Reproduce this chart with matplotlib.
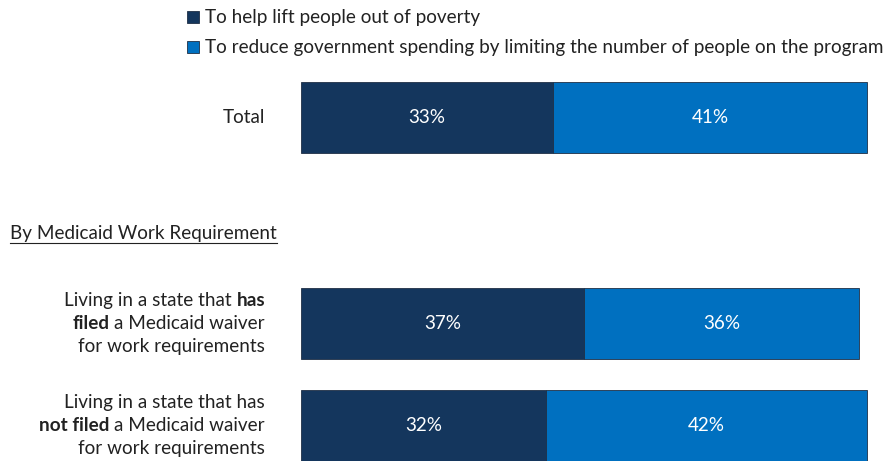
import matplotlib.pyplot as plt

plt.rcParams['font.family'] = ['Lato', 'DejaVu Sans']

# data
series = ["To help lift people out of poverty",
          "To reduce government spending by limiting the number of people on the program"]
colors = ["#14365D", "#0070C0"]
lift = [33, 37, 32]
reduce = [41, 36, 42]
row_labels = [
    [[("Total", "normal")]],
    [[("Living in a state that", "normal"), ("has", "bold")],
     [("filed", "bold"), ("a Medicaid waiver", "normal")],
     [("for work requirements", "normal")]],
    [[("Living in a state that has", "normal")],
     [("not filed", "bold"), ("a Medicaid waiver", "normal")],
     [("for work requirements", "normal")]],
]
section = "By Medicaid Work Requirement"

# layout (pixels)
W, H = 891, 461
row_y = [117.5, 323.5, 425.5]
bar_h = 71
px_per_pct = 7.65
fs = 13.6

fig = plt.figure(figsize=(W / 100, H / 100), dpi=100)
bg = fig.add_axes([0, 0, 1, 1])
bg.set_xlim(0, W)
bg.set_ylim(H, 0)
bg.axis("off")

bx = fig.add_axes([301 / W, 0, 1 - 301 / W, 1])
bx.set_xlim(0, (W - 301) / px_per_pct)
bx.set_ylim(H, 0)
bx.axis("off")

bx.barh(row_y, lift, height=bar_h, color=colors[0], edgecolor="#1f2f45", linewidth=0.6)
bx.barh(row_y, reduce, left=lift, height=bar_h, color=colors[1], edgecolor="#1f2f45", linewidth=0.6)
for y, a, b in zip(row_y, lift, reduce):
    bx.text(a / 2, y, f"{a}%", color="white", ha="center", va="center", fontsize=fs)
    bx.text(a + b / 2, y, f"{b}%", color="white", ha="center", va="center", fontsize=fs)

# legend
for i, (name, c) in enumerate(zip(series, colors)):
    yy = 17 + 30 * i
    bg.add_patch(plt.Rectangle((187, yy - 6), 12, 12, facecolor=c, edgecolor="#1f2f45", linewidth=0.6))
    bg.text(205, yy, name, ha="left", va="center", fontsize=fs, color="#222222")

renderer = fig.canvas.get_renderer()


def width_of(s, weight):
    t = bg.text(0, 0, s, fontsize=fs, fontweight=weight)
    w = t.get_window_extent(renderer).width
    t.remove()
    return w


space = width_of("a a", "normal") - width_of("aa", "normal")

# row labels with mixed bold
right = 265
for y, lines in zip(row_y, row_labels):
    n = len(lines)
    for j, segs in enumerate(lines):
        ly = y + (j - (n - 1) / 2) * 23
        widths = [width_of(s, w) for s, w in segs]
        total = sum(widths) + space * (len(segs) - 1)
        x = right - total
        for (s, w), wd in zip(segs, widths):
            bg.text(x, ly, s, fontsize=fs, fontweight=w, ha="left", va="center", color="#222222")
            x += wd + space

# section heading, underlined
h = bg.text(10, 233, section, fontsize=fs, ha="left", va="center", color="#222222")
hw = h.get_window_extent(renderer).width
bg.plot([10, 10 + hw], [243, 243], color="#222222", linewidth=0.8)

fig.savefig("out.png", dpi=100)
